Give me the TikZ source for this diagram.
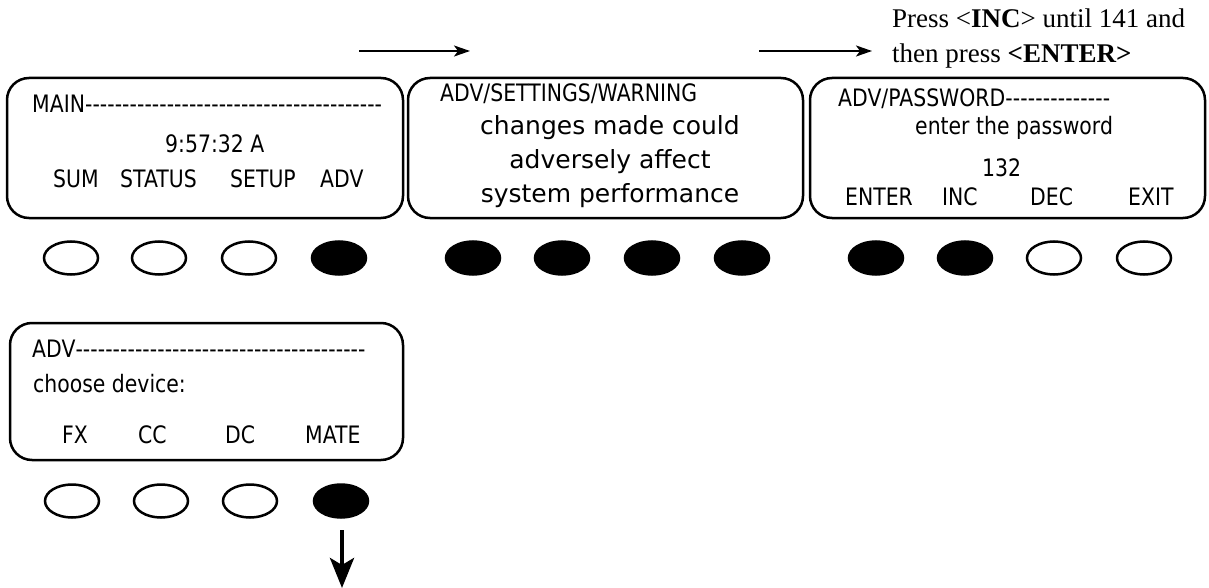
\documentclass[tikz,border=0pt]{standalone}
\usepackage{fontspec}
\usetikzlibrary{shapes.geometric,arrows.meta}
\setmainfont{Liberation Serif}
\newfontfamily\lcdfont[FakeStretch=0.85,Ligatures=TeXOff]{DejaVu Sans}
\newfontfamily\verdfont[Ligatures=TeXOff]{DejaVu Sans}
\newcommand\dashrun[1]{\hbox to #1{\xleaders\hbox{-}\hfill}}
\begin{document}
\begin{tikzpicture}[x=1pt,y=-1pt,
  screen/.style={draw, line width=2.5pt, rounded corners=22pt, inner sep=0pt},
  lcd/.style={font=\lcdfont\fontsize{24}{28}\selectfont, inner sep=0pt, anchor=base west},
  lcdc/.style={font=\verdfont\fontsize{25}{30}\selectfont, inner sep=0pt, anchor=base},
  btn/.style={ellipse, draw, line width=2.5pt, minimum width=54pt, minimum height=33pt, inner sep=0pt},
  on/.style={btn, fill=black},
  off/.style={btn, fill=white},
  note/.style={font=\fontsize{27}{35}\selectfont, inner sep=0pt, anchor=base west},
  flow/.style={line width=2pt, -{Stealth[length=16pt,width=11pt,inset=4pt]}},
  down/.style={line width=4.5pt, -{Stealth[length=30pt,width=24pt,inset=7pt]}}
]
\useasboundingbox (0,0) rectangle (1209,588);

% screens
\node[screen, minimum width=396pt, minimum height=140pt] (s1) at (205,148) {};
\node[screen, minimum width=395pt, minimum height=140pt] (s2) at (605.5,148) {};
\node[screen, minimum width=395pt, minimum height=140pt] (s3) at (1007.5,148) {};
\node[screen, minimum width=393pt, minimum height=137pt] (s4) at (206.5,391.5) {};

% screen 1 text
\node[lcd] (t1a) at (32,113) {MAIN\dashrun{297pt}};
\node[lcd] (t1b) at (165,153) {9:57:32 A};
\node[lcd] (t1c) at (53,188) {SUM};
\node[lcd] (t1d) at (120,188) {STATUS};
\node[lcd] (t1e) at (230,188) {SETUP};
\node[lcd] (t1f) at (320,188) {ADV};

% screen 2 text
\node[lcd] (t2a) at (440,102) {ADV/SETTINGS/WARNING};
\node[lcdc] (t2b) at (610,135) {changes made could};
\node[lcdc] (t2c) at (610,168) {adversely affect};
\node[lcdc] (t2d) at (610,202) {system performance};

% screen 3 text
\node[lcd] (t3a) at (838,107) {ADV/PASSWORD\dashrun{105pt}};
\node[lcd] (t3b) at (915,135) {enter the password};
\node[lcd] (t3c) at (982,177) {132};
\node[lcd] (t3d) at (845,205) {ENTER};
\node[lcd] (t3e) at (942,205) {INC};
\node[lcd] (t3f) at (1030,205) {DEC};
\node[lcd] (t3g) at (1128,205) {EXIT};

% screen 4 text
\node[lcd] (t4a) at (32,357) {ADV\dashrun{290pt}};
\node[lcd] (t4b) at (33,392) {choose device:};
\node[lcd] (t4c) at (62,443) {FX};
\node[lcd] (t4d) at (138,443) {CC};
\node[lcd] (t4e) at (225,443) {DC};
\node[lcd] (t4f) at (305,443) {MATE};

% buttons row 1
\node[off] (b1a) at (71,258) {};
\node[off] (b1b) at (159,258) {};
\node[off] (b1c) at (249,258) {};
\node[on]  (b1d) at (339,258) {};
\node[on]  (b2a) at (473,258) {};
\node[on]  (b2b) at (562,258) {};
\node[on]  (b2c) at (652,258) {};
\node[on]  (b2d) at (742,258) {};
\node[on]  (b3a) at (876,258) {};
\node[on]  (b3b) at (965,258) {};
\node[off] (b3c) at (1054,258) {};
\node[off] (b3d) at (1144,258) {};

% buttons row 2
\node[off] (b4a) at (72,501) {};
\node[off] (b4b) at (161,501) {};
\node[off] (b4c) at (250,501) {};
\node[on]  (b4d) at (341,501) {};

% note
\node[note] (n1) at (892,28) {Press <\textbf{INC}> until 141 and};
\node[note] (n2) at (892,63) {then press \textbf{<ENTER>}};

% arrows
\coordinate (a1s) at (359,51);
\coordinate (a1e) at (470,51);
\coordinate (a2s) at (759,51);
\coordinate (a2e) at (872,51);
\coordinate (d0) at (342,530);
\coordinate (d1) at (342,588);
\draw[flow] (a1s) -- (a1e);
\draw[flow] (a2s) -- (a2e);
\draw[down] (d0) -- (d1);
\end{tikzpicture}
\end{document}
